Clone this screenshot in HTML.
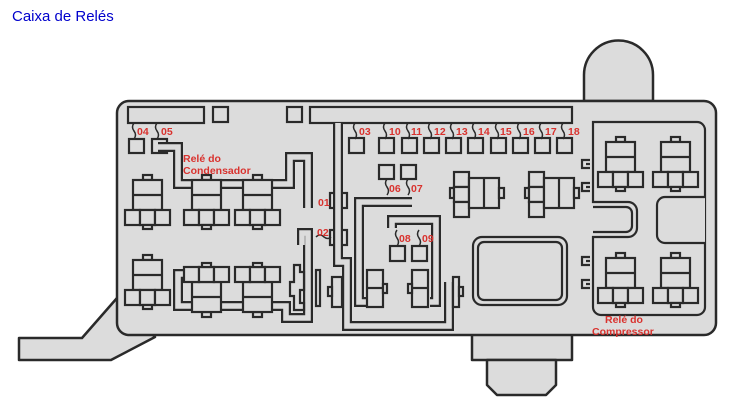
<!DOCTYPE html>
<html><head><meta charset="utf-8"><style>
html,body{margin:0;padding:0;background:#fff;}
svg{display:block;}
.t{font-family:"Liberation Sans",sans-serif;font-weight:bold;font-size:10.5px;fill:#d9322e;}
</style></head><body>
<svg width="733" height="419" viewBox="0 0 733 419" xmlns="http://www.w3.org/2000/svg">
<defs>
<g id="relay" fill="#dcdcdc" stroke="#2a2a2a" stroke-width="2.2">
<rect x="18" y="0" width="9" height="5"/>
<rect x="8" y="5" width="29" height="30"/>
<line x1="8" y1="20" x2="37" y2="20"/>
<rect x="0" y="35" width="15" height="15"/>
<rect x="15" y="35" width="15" height="15"/>
<rect x="30" y="35" width="15" height="15"/>
<rect x="18" y="50" width="9" height="4"/>
</g>
<g id="hrelay" fill="#dcdcdc" stroke="#2a2a2a" stroke-width="2.2">
<rect x="0" y="16" width="4" height="10"/>
<rect x="4" y="0" width="15" height="15"/>
<rect x="4" y="15" width="15" height="15"/>
<rect x="4" y="30" width="15" height="15"/>
<rect x="19" y="6" width="30" height="30"/>
<line x1="34" y1="6" x2="34" y2="36"/>
<rect x="49" y="16" width="5" height="10"/>
</g>
</defs>
<text x="12" y="21" font-family="Liberation Sans, sans-serif" font-size="15" fill="#0000cc">Caixa de Relés</text>
<g fill="#dcdcdc" stroke="#2a2a2a" stroke-width="2.5" stroke-linejoin="round">
<polygon points="117,298 82,338 19,338 19,360 111,360 155,337"/>
<path d="M584,101 V75 A34.5,34.5 0 0 1 653,75 V101 Z"/>
<rect x="472" y="330" width="100" height="30"/>
<polygon points="487,360 556,360 556,385 546,395 497,395 487,385"/>
<rect x="117" y="101" width="599" height="234" rx="12"/>
</g>
<g fill="#dcdcdc" stroke="#2a2a2a" stroke-width="2.2">
<path d="M593,122 H697 A8,8 0 0 1 705,130 V307 A8,8 0 0 1 697,315 H601 A8,8 0 0 1 593,307 V237 H628 A9,9 0 0 0 637,228 V211 A9,9 0 0 0 628,202 H593 Z"/>
<path d="M593,207 H626 A6,6 0 0 1 632,213 V226 A6,6 0 0 1 626,232 H593" fill="none"/>
<path d="M705,197 H665 A8,8 0 0 0 657,205 V235 A8,8 0 0 0 665,243 H705"/>
<rect x="473" y="237" width="94" height="68" rx="9"/>
<rect x="478" y="242" width="84" height="58" rx="6"/>
<rect x="128" y="107" width="76" height="16"/>
<rect x="213" y="107" width="15" height="15"/>
<rect x="287" y="107" width="15" height="15"/>
<rect x="310" y="107" width="262" height="16"/>
<rect x="129" y="139" width="15" height="14"/>
<rect x="152" y="139" width="15" height="14"/>
<rect x="349" y="138" width="15" height="15"/>
<rect x="379" y="138" width="15" height="15"/>
<rect x="402" y="138" width="15" height="15"/>
<rect x="424" y="138" width="15" height="15"/>
<rect x="446" y="138" width="15" height="15"/>
<rect x="468" y="138" width="15" height="15"/>
<rect x="491" y="138" width="15" height="15"/>
<rect x="513" y="138" width="15" height="15"/>
<rect x="535" y="138" width="15" height="15"/>
<rect x="557" y="138" width="15" height="15"/>
<rect x="379" y="165" width="15" height="14"/>
<rect x="401" y="165" width="15" height="14"/>
<rect x="390" y="246" width="15" height="15"/>
<rect x="412" y="246" width="15" height="15"/>
<rect x="330" y="193" width="5" height="15"/><rect x="340" y="193" width="7" height="15"/>
<rect x="330" y="230" width="5" height="15"/><rect x="340" y="230" width="7" height="15"/>
</g>
<g fill="none" stroke="#2a2a2a" stroke-width="1.5">
<path d="M134,123 q-3,4 0,8 q3,4 0,8"/><path d="M157,123 q-3,4 0,8 q3,4 0,8"/>
<path d="M355,123 q-3,4 0,8 q3,4 0,8"/><path d="M385,123 q-3,4 0,8 q3,4 0,8"/>
<path d="M408,123 q-3,4 0,8 q3,4 0,8"/><path d="M430,123 q-3,4 0,8 q3,4 0,8"/>
<path d="M452,123 q-3,4 0,8 q3,4 0,8"/><path d="M474,123 q-3,4 0,8 q3,4 0,8"/>
<path d="M497,123 q-3,4 0,8 q3,4 0,8"/><path d="M519,123 q-3,4 0,8 q3,4 0,8"/>
<path d="M541,123 q-3,4 0,8 q3,4 0,8"/><path d="M563,123 q-3,4 0,8 q3,4 0,8"/>
<path d="M387,179 q-3,4 0,8 q3,4 0,8"/><path d="M408,179 q-3,4 0,8 q3,4 0,8"/>
<path d="M397,230 q-3,4 0,8 q3,4 0,8"/><path d="M419,230 q-3,4 0,8 q3,4 0,8"/>
<path d="M316,237 q4,-4 8,0 q4,3 7,0"/>
</g>
<g fill="none" stroke-linejoin="miter">
<g stroke="#2a2a2a" stroke-width="10">
<path d="M158,147 H178 V184 H290 V157 H308 V208"/>
<path d="M194,274 H178 V306 H286 V318 H308 V233 H302 V245"/>
<path d="M338,123 V262 H347 V326 H449 V282"/>
<path d="M412,202 H359 V302 H368"/>
<path d="M392,228 V220 H436 V302 H430"/>
</g>
<g stroke="#dcdcdc" stroke-width="5.6">
<path d="M158,147 H178 V184 H290 V157 H308 V208"/>
<path d="M194,274 H178 V306 H286 V318 H308 V233 H302 V245"/>
<path d="M338,123 V262 H347 V326 H449 V282"/>
<path d="M412,202 H359 V302 H368"/>
<path d="M392,228 V220 H436 V302 H430"/>
</g>
</g>
<use href="#relay" x="125" y="175"/>
<use href="#relay" x="184" y="175"/>
<use href="#relay" x="235" y="175"/>
<use href="#relay" x="125" y="255"/>
<use href="#relay" transform="translate(184,317) scale(1,-1)"/>
<use href="#relay" transform="translate(235,317) scale(1,-1)"/>
<use href="#relay" x="598" y="137"/>
<use href="#relay" x="653" y="137"/>
<use href="#relay" x="598" y="253"/>
<use href="#relay" x="653" y="253"/>
<use href="#hrelay" x="450" y="172"/>
<use href="#hrelay" x="525" y="172"/>
<g fill="#dcdcdc" stroke="#2a2a2a" stroke-width="2.2">
<polygon points="294,265 300,265 300,272 304,272 304,290 300,290 300,303 304,303 304,310 294,310 294,296 290,296 290,282 294,282"/>
<rect x="316" y="270" width="4" height="36"/>
<rect x="367" y="270" width="16" height="37"/><line x1="367" y1="288" x2="383" y2="288"/>
<rect x="383" y="284" width="4" height="9"/>
<rect x="412" y="270" width="16" height="37"/><line x1="412" y1="288" x2="428" y2="288"/>
<rect x="408" y="284" width="4" height="9"/>
<rect x="332" y="277" width="10" height="30"/><rect x="328" y="287" width="4" height="9"/>
<rect x="453" y="277" width="6" height="30"/><rect x="459" y="287" width="4" height="9"/>
<path d="M590,160 H582 V168 H590 M586,164 H590" fill="none"/>
<path d="M590,183 H582 V191 H590 M586,187 H590" fill="none"/>
<path d="M590,257 H582 V265 H590 M586,261 H590" fill="none"/>
<path d="M590,280 H582 V288 H590 M586,284 H590" fill="none"/>
</g>
<g class="t">
<text x="137" y="135">04</text><text x="161" y="135">05</text>
<text x="359" y="135">03</text><text x="389" y="135">10</text><text x="411" y="135">11</text>
<text x="434" y="135">12</text><text x="456" y="135">13</text><text x="478" y="135">14</text>
<text x="500" y="135">15</text><text x="523" y="135">16</text><text x="545" y="135">17</text>
<text x="568" y="135">18</text>
<text x="389" y="192">06</text><text x="411" y="192">07</text>
<text x="399" y="242">08</text><text x="422" y="242">09</text>
<text x="318" y="206">01</text><text x="317" y="236">02</text>
<text x="183" y="162">Relé do</text><text x="183" y="174">Condensador</text>
<text x="605" y="323">Relé do</text><text x="592" y="335">Compressor</text>
</g>
</svg>
</body></html>
